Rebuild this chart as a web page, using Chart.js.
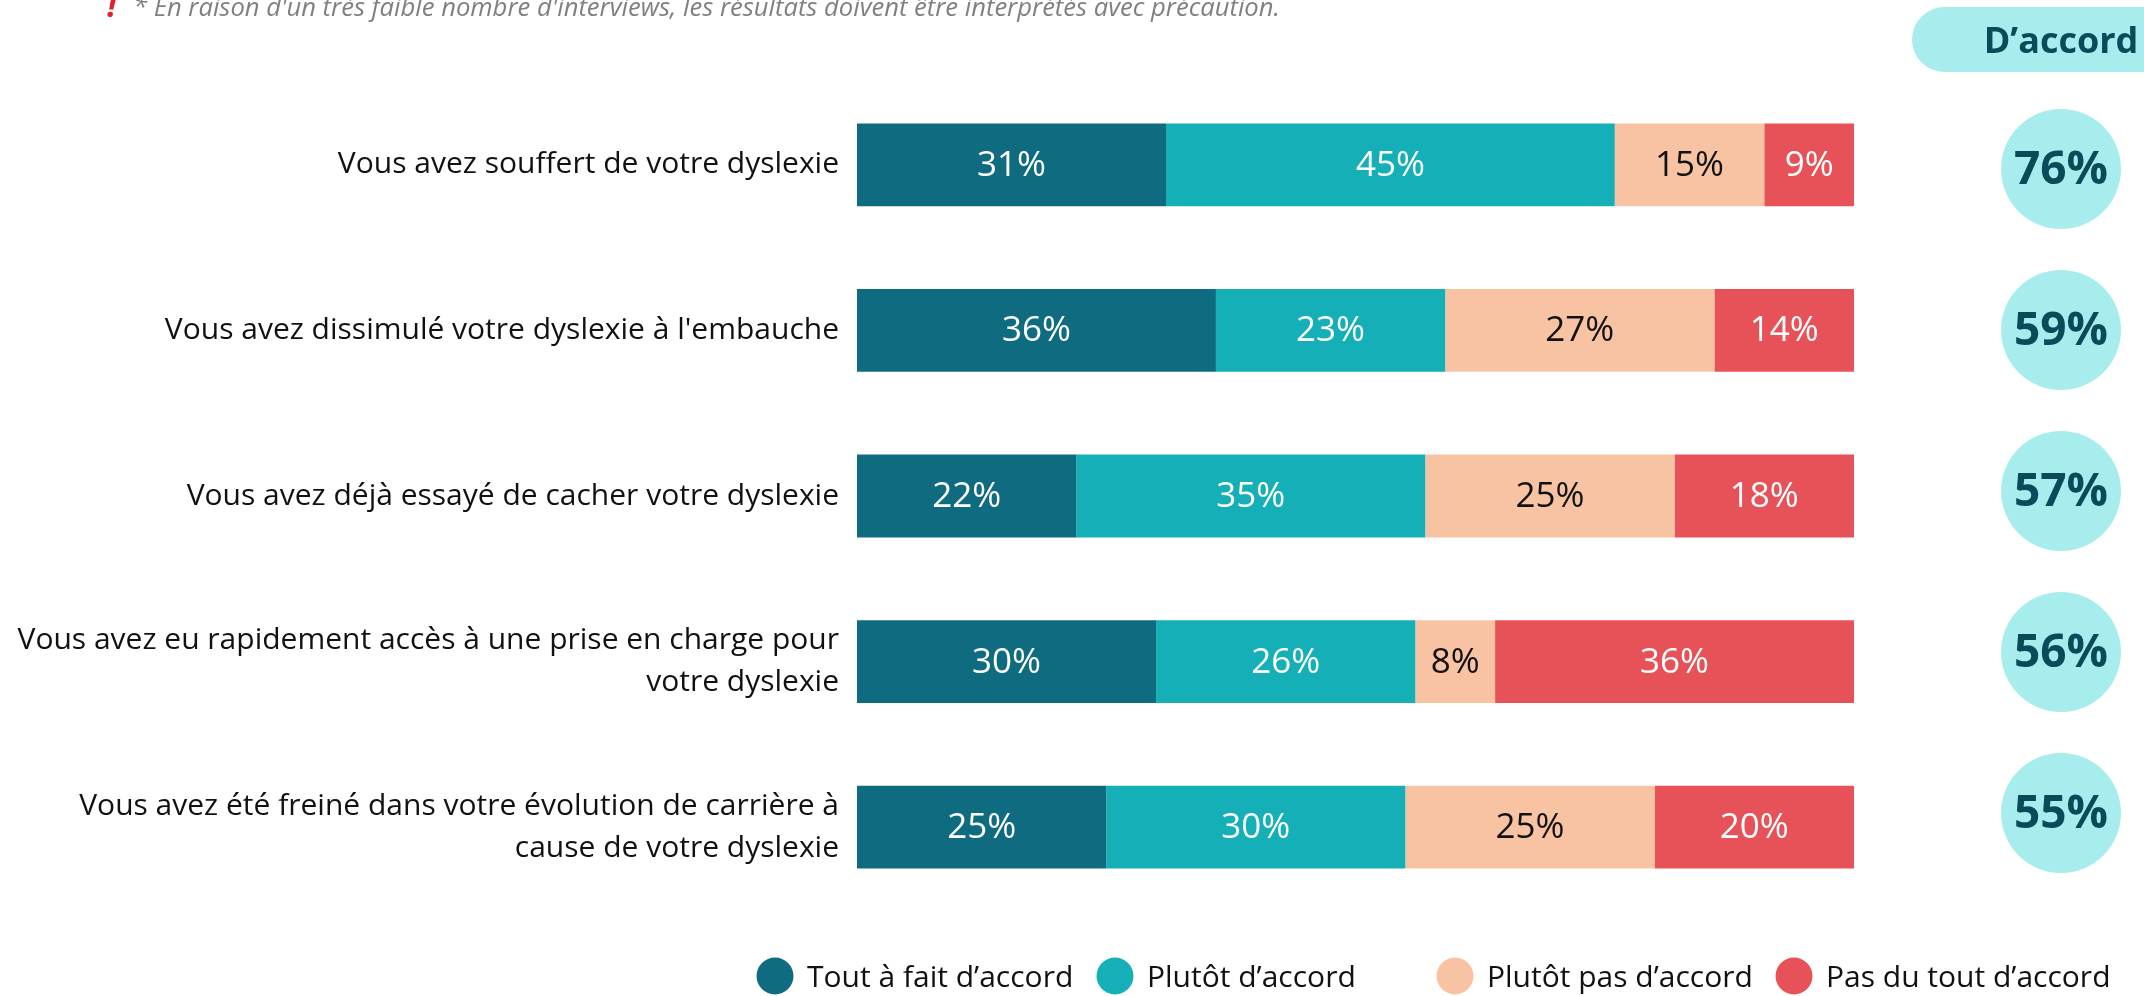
<!DOCTYPE html>
<html lang="fr">
<head>
<meta charset="utf-8">
<title>Dyslexie et travail</title>
<script src="https://cdn.jsdelivr.net/npm/chart.js@4.4.1/dist/chart.umd.min.js"></script>
<style>
  html, body { margin: 0; padding: 0; background: #fff; }
  #wrap { width: 2144px; height: 996px; }
</style>
</head>
<body>
<div id="wrap"><canvas id="chart" width="2144" height="996"></canvas></div>
<script>
// Data
const categories = [
  "Vous avez souffert de votre dyslexie",
  "Vous avez dissimulé votre dyslexie à l'embauche",
  "Vous avez déjà essayé de cacher votre dyslexie",
  ["Vous avez eu rapidement accès à une prise en charge pour", "votre dyslexie"],
  ["Vous avez été freiné dans votre évolution de carrière à", "cause de votre dyslexie"]
];
const seriesNames = ["Tout à fait d’accord", "Plutôt d’accord", "Plutôt pas d’accord", "Pas du tout d’accord"];
const toutAFait = [31, 36, 22, 30, 25];
const plutot = [45, 23, 35, 26, 30];
const plutotPas = [15, 27, 25, 8, 25];
const pasDuTout = [9, 14, 18, 36, 20];
const accordTotal = [76, 59, 57, 56, 55];
const accordHeader = "D’accord";
const note = "* En raison d'un très faible nombre d'interviews, les résultats doivent être interprétés avec précaution.";

const colors = ["#0f6b80", "#14afb7", "#f7c3a3", "#e75259"];
const labelColors = ["#fff", "#fff", "#111", "#fff"];
const font = '"Open Sans", "Noto Sans", sans-serif';

// Labels inside the bars
const barLabels = {
  id: 'barLabels',
  afterDatasetsDraw(chart) {
    const ctx = chart.ctx;
    ctx.save();
    ctx.font = '35px ' + font;
    ctx.textAlign = 'center';
    ctx.textBaseline = 'middle';
    chart.data.datasets.forEach((ds, i) => {
      chart.getDatasetMeta(i).data.forEach((bar, j) => {
        ctx.fillStyle = labelColors[i];
        ctx.fillText(ds.data[j] + '%', (bar.x + bar.base) / 2, bar.y + 1);
      });
    });
    ctx.restore();
  }
};

// "D'accord" column on the right (circles are a bit tighter than the bar rows)
const accordColumn = {
  id: 'accordColumn',
  afterDraw(chart) {
    const ctx = chart.ctx;
    const y = chart.scales.y;
    const cx = 2061;
    const mid = (accordTotal.length - 1) / 2;
    const step = 161;
    const yMid = y.getPixelForValue(mid) - 5;
    ctx.save();
    ctx.fillStyle = '#a8eded';
    ctx.beginPath();
    ctx.roundRect(1912, 7, 300, 65, 32.5);
    ctx.fill();
    ctx.fillStyle = '#0b4a59';
    ctx.textAlign = 'center';
    ctx.textBaseline = 'alphabetic';
    ctx.font = 'bold 36px ' + font;
    ctx.fillText(accordHeader, cx, 53);
    ctx.textBaseline = 'middle';
    accordTotal.forEach((v, i) => {
      const cy = yMid + (i - mid) * step;
      ctx.fillStyle = '#a8eded';
      ctx.beginPath();
      ctx.arc(cx, cy, 60, 0, Math.PI * 2);
      ctx.fill();
      ctx.fillStyle = '#0b4a59';
      ctx.font = 'bold 46px ' + font;
      ctx.fillText(v + '%', cx, cy + 2);
    });
    ctx.restore();
  }
};

// Note at the top and legend at the bottom
const extras = {
  id: 'extras',
  afterDraw(chart) {
    const ctx = chart.ctx;
    ctx.save();
    ctx.textBaseline = 'alphabetic';
    ctx.textAlign = 'left';
    ctx.fillStyle = '#e0202a';
    ctx.font = 'italic bold 32px ' + font;
    ctx.fillText('!', 107, 17);
    ctx.fillStyle = '#808080';
    ctx.font = 'italic 25.6px ' + font;
    ctx.fillText(note, 133, 16);

    const legendX = [775, 1115, 1455, 1794];
    ctx.textBaseline = 'middle';
    ctx.font = '30px ' + font;
    seriesNames.forEach((name, i) => {
      ctx.fillStyle = colors[i];
      ctx.beginPath();
      ctx.arc(legendX[i], 976, 18.5, 0, Math.PI * 2);
      ctx.fill();
      ctx.fillStyle = '#111';
      ctx.fillText(name, legendX[i] + 32, 978);
    });
    ctx.restore();
  }
};

const series = [toutAFait, plutot, plutotPas, pasDuTout];

new Chart(document.getElementById('chart'), {
  type: 'bar',
  data: {
    labels: categories,
    datasets: series.map((d, i) => ({
      label: seriesNames[i],
      data: d,
      backgroundColor: colors[i],
      borderWidth: 0,
      categoryPercentage: 1,
      barPercentage: 0.5
    }))
  },
  options: {
    indexAxis: 'y',
    responsive: false,
    animation: false,
    devicePixelRatio: 1,
    layout: { padding: { left: 0, right: 290, top: 82, bottom: 86 } },
    plugins: {
      legend: { display: false },
      tooltip: { enabled: false }
    },
    scales: {
      x: { stacked: true, min: 0, max: 100, display: false },
      y: {
        stacked: true,
        grid: { display: false },
        border: { display: false },
        ticks: {
          padding: 10,
          color: '#111',
          font: { family: font, size: 30, lineHeight: 1.4 }
        },
        afterFit(scale) { scale.width = 857; }
      }
    }
  },
  plugins: [barLabels, accordColumn, extras]
});
</script>
</body>
</html>
